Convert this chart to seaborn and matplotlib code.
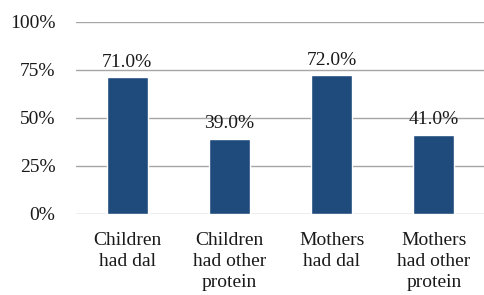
import pandas as pd
import matplotlib
matplotlib.use("Agg")
import matplotlib.pyplot as plt
import seaborn as sns

# values
categories = ["Children\nhad dal", "Children\nhad other\nprotein", "Mothers\nhad dal", "Mothers\nhad other\nprotein"]
percents = [71.0, 39.0, 72.0, 41.0]
yticks = [0, 25, 50, 75, 100]

df = pd.DataFrame({"category": categories, "percent": percents})

sns.set_style("white")
plt.rcParams["font.family"] = ["Liberation Serif", "DejaVu Serif"]

fig = plt.figure(figsize=(4.85, 2.95), dpi=100)
ax = fig.add_axes([0.157, 0.275, 0.843, 0.652])

ax.set_axisbelow(True)
for t in yticks:
    ax.axhline(t, color="#a6a6a6", lw=1.0, zorder=0)

sns.barplot(data=df, x="category", y="percent", color="#1f4a7c", width=0.4,
            saturation=1, ax=ax, zorder=2)

for i, v in enumerate(percents):
    ax.text(i, v + 3.5, f"{v:.1f}%", ha="center", va="bottom", fontsize=14, color="#1a1a1a")

ax.set_ylim(0, 100)
ax.set_xlim(-0.5, 3.5)
ax.set_yticks(yticks)
ax.set_yticklabels([f"{t}%" for t in yticks])
ax.set_xlabel("")
ax.set_ylabel("")
ax.tick_params(axis="y", length=0, pad=15, labelsize=14, labelcolor="#1a1a1a")
ax.tick_params(axis="x", length=0, pad=13, labelsize=14, labelcolor="#1a1a1a")
for lbl in ax.get_xticklabels():
    lbl.set_linespacing(1.3)
for s in ax.spines.values():
    s.set_visible(False)

fig.savefig("out.png", dpi=100)
